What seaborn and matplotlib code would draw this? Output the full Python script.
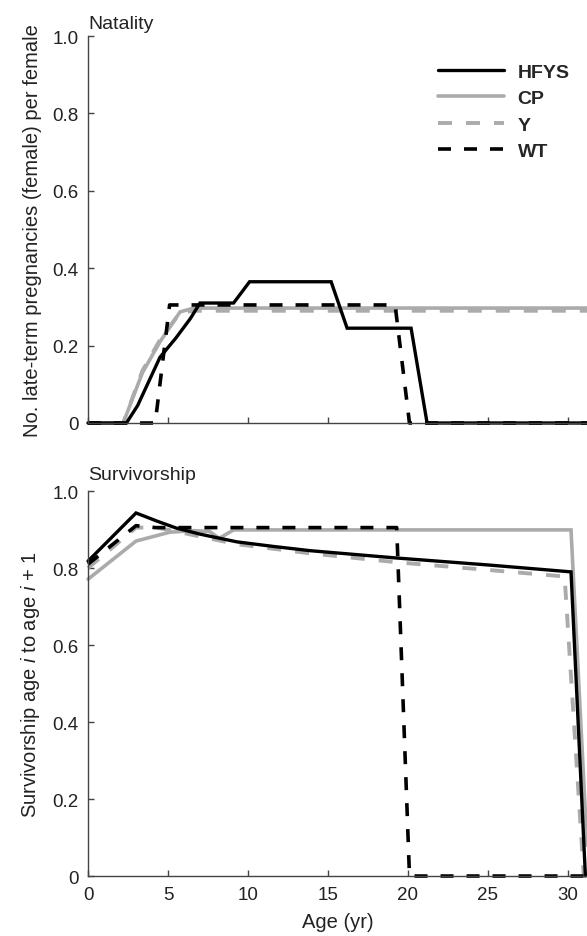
import matplotlib
matplotlib.use("Agg")
import matplotlib.pyplot as plt
import seaborn as sns
import pandas as pd

sns.set_theme(style="ticks")
plt.rcParams['font.family'] = ['Liberation Sans', 'DejaVu Sans']
plt.rcParams['mathtext.fontset'] = 'custom'
plt.rcParams['mathtext.rm'] = 'Liberation Sans'
plt.rcParams['mathtext.it'] = 'Liberation Sans:italic'

# ---------------- data ----------------
series_names = ["HFYS", "CP", "Y", "WT"]

# Natality
nat_hfys_age = [0, 2.4, 3.1, 4.5, 5.5, 6.4, 7.0, 9.1, 10.1, 15.2, 16.2, 20.2, 21.2, 31.2]
nat_hfys_val = [0, 0, 0.045, 0.17, 0.22, 0.27, 0.31, 0.31, 0.365, 0.365, 0.245, 0.245, 0, 0]
nat_cp_age = [0, 2.2, 3.4, 4.5, 5.75, 6.6, 31.2]
nat_cp_val = [0, 0.0, 0.13, 0.21, 0.287, 0.297, 0.297]
nat_y_age = [0, 2.2, 3.4, 4.5, 5.75, 6.6, 31.2]
nat_y_val = [0, 0.0, 0.135, 0.215, 0.285, 0.29, 0.29]
nat_wt_age = [0, 4.2, 5.1, 19.2, 20.1, 31.2]
nat_wt_val = [0, 0, 0.305, 0.305, 0, 0]

# Survivorship
sur_hfys_age = [0, 3.0, 4.3, 5.5, 7.0, 9.3, 11.6, 13.9, 19.3, 25.0, 30.2, 31.1]
sur_hfys_val = [0.818, 0.943, 0.922, 0.904, 0.888, 0.868, 0.856, 0.845, 0.826, 0.808, 0.79, 0]
sur_cp_age = [0, 3.0, 5.1, 6.6, 7.6, 8.2, 9.1, 30.2, 31.2]
sur_cp_val = [0.771, 0.87, 0.893, 0.897, 0.895, 0.877, 0.899, 0.899, 0.08]
sur_y_age = [0, 3.0, 4.3, 5.5, 7.0, 9.3, 11.6, 13.9, 19.3, 25.0, 29.8, 31.0]
sur_y_val = [0.80, 0.905, 0.905, 0.895, 0.882, 0.862, 0.85, 0.838, 0.815, 0.795, 0.778, 0]
sur_wt_age = [0, 3.0, 4.2, 19.3, 20.1, 31.2]
sur_wt_val = [0.81, 0.91, 0.905, 0.905, 0, 0]

x_ticks = [0, 5, 10, 15, 20, 25, 30]
y_ticks = [0, 0.2, 0.4, 0.6, 0.8, 1.0]
y_tick_labels = ["0", "0.2", "0.4", "0.6", "0.8", "1.0"]

# ---------------- styles ----------------
GRAY = "#ababab"
styles = {
    "CP":   dict(color=GRAY, lw=2.6, ls="-"),
    "Y":    dict(color=GRAY, lw=2.8, ls=(0, (3.6, 3.6))),
    "WT":   dict(color="black", lw=2.6, ls=(0, (3.6, 3.6))),
    "HFYS": dict(color="black", lw=2.4, ls="-"),
}
draw_order = ["CP", "Y", "WT", "HFYS"]

natality = {
    "HFYS": (nat_hfys_age, nat_hfys_val),
    "CP": (nat_cp_age, nat_cp_val),
    "Y": (nat_y_age, nat_y_val),
    "WT": (nat_wt_age, nat_wt_val),
}
survival = {
    "HFYS": (sur_hfys_age, sur_hfys_val),
    "CP": (sur_cp_age, sur_cp_val),
    "Y": (sur_y_age, sur_y_val),
    "WT": (sur_wt_age, sur_wt_val),
}

TXT = "#222222"
fig = plt.figure(figsize=(5.87, 9.37), dpi=100)
ax1 = fig.add_axes([0.150, 0.5475, 0.850, 0.413])
ax2 = fig.add_axes([0.150, 0.064, 0.850, 0.4109])

handles = {}
for ax, data in ((ax1, natality), (ax2, survival)):
    for name in draw_order:
        ages, vals = data[name]
        df = pd.DataFrame({"age": ages, "val": vals})
        st = styles[name]
        sns.lineplot(data=df, x="age", y="val", ax=ax, estimator=None, sort=False,
                     color=st["color"], lw=st["lw"], clip_on=False)
        line = ax.lines[-1]
        line.set_linestyle(st["ls"])
        line.set_solid_joinstyle("miter")
        handles[name] = line

    ax.set_xlim(0, 31.2)
    ax.set_ylim(0, 1.0)
    sns.despine(ax=ax, top=True, right=True)
    for sp in ("left", "bottom"):
        ax.spines[sp].set_color("#444444")
        ax.spines[sp].set_linewidth(1.0)
    ax.set_xticks(x_ticks)
    ax.set_yticks(y_ticks)
    ax.set_yticklabels(y_tick_labels)
    ax.tick_params(direction="in", length=4, width=1.0, color="#444444",
                   labelsize=13.5, pad=7, labelcolor=TXT)

ax1.set_xticklabels([])
ax1.set_xlabel("")
ax1.set_ylabel("No. late-term pregnancies (female) per female", fontsize=14.5, color=TXT, labelpad=7)
ax2.set_xlabel("Age (yr)", fontsize=14.5, color=TXT, labelpad=7)
ax2.set_ylabel("Survivorship age $\\mathit{i}$ to age $\\mathit{i}$ + 1", fontsize=14.5, color=TXT, labelpad=7)

ax1.text(0.0, 1.01, "Natality", transform=ax1.transAxes, fontsize=14, color=TXT,
         ha="left", va="bottom")
ax2.text(0.0, 1.02, "Survivorship", transform=ax2.transAxes, fontsize=14, color=TXT,
         ha="left", va="bottom")

leg = ax1.legend([handles[n] for n in series_names], series_names, loc="upper right",
                 bbox_to_anchor=(1.0, 0.975), frameon=False, handlelength=3.4,
                 handletextpad=0.7, labelspacing=0.45,
                 prop={"weight": "bold", "size": 14})

fig.savefig("out.png", dpi=100)
